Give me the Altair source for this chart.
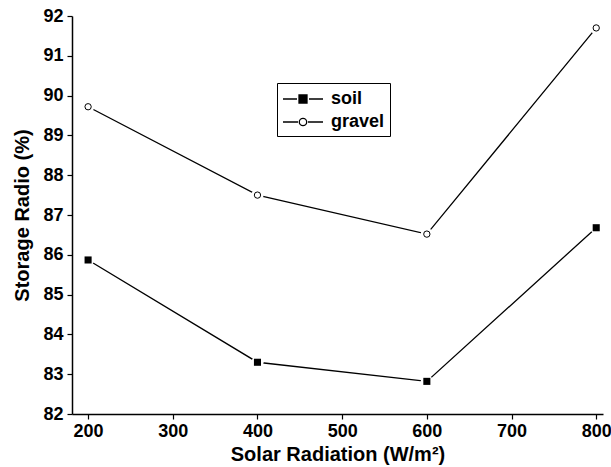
import altair as alt
import pandas as pd

series = ["soil", "gravel"]
radiation = [200, 400, 600, 800]
soil = [85.87, 83.3, 82.82, 86.68]
gravel = [89.72, 87.5, 86.52, 91.7]

y_major = [82, 83, 84, 85, 86, 87, 88, 89, 90, 91, 92]
x_major = [200, 300, 400, 500, 600, 700, 800]
x_domain = [181, 808]
y_domain = [82, 92]

rows = []
for s, vals in zip(series, [soil, gravel]):
    for r, v in zip(radiation, vals):
        rows.append({"series": s, "radiation": r, "ratio": v})
df = pd.DataFrame(rows)

FONT = "Liberation Sans"
W, H = 531, 398
xs = alt.Scale(domain=x_domain, nice=False, zero=False)
ys = alt.Scale(domain=y_domain, nice=False, zero=False)

xax = alt.Axis(orient="bottom", values=x_major, ticks=True, tickSize=5,
               tickColor="black", tickWidth=1.2, grid=False, domainColor="black",
               domainWidth=1.5, labelFont=FONT, labelFontSize=18, labelFontWeight="bold",
               labelColor="black", labelPadding=3, title="Solar Radiation (W/m²)",
               titleFont=FONT, titleFontSize=20, titleFontWeight="bold", titleColor="black",
               titlePadding=4, format="d", labelOverlap=False)
yax = alt.Axis(orient="left", values=y_major, ticks=True, tickSize=5,
               tickColor="black", tickWidth=1.2, grid=False, domainColor="black",
               domainWidth=1.5, labelFont=FONT, labelFontSize=18, labelFontWeight="bold",
               labelColor="black", labelPadding=4, title="Storage Radio (%)",
               titleFont=FONT, titleFontSize=20, titleFontWeight="bold", titleColor="black",
               titlePadding=10, format="d", labelOverlap=False)

base = alt.Chart(df).encode(
    x=alt.X("radiation:Q", scale=xs, axis=xax),
    y=alt.Y("ratio:Q", scale=ys, axis=yax),
)

line = base.mark_line(color="black", strokeWidth=1.3).encode(detail="series:N")
halo = base.mark_point(filled=True, color="white", opacity=1, size=150, shape="circle")
soil_pts = base.transform_filter(alt.datum.series == "soil").mark_point(
    shape="square", filled=True, color="black", size=50, opacity=1)
gravel_pts = base.transform_filter(alt.datum.series == "gravel").mark_point(
    shape="circle", filled=True, fill="white", stroke="black", strokeWidth=1, size=40, opacity=1)

soil_path = "M-1,0H0.4M1.6,0H3M0.6,-0.4H1.4V0.4H0.6Z"
gravel_path = "M-1,0H0.5M1.5,0H3M1.37,0A0.37,0.37,0,1,1,0.63,0A0.37,0.37,0,1,1,1.37,0Z"

leg = alt.Legend(title=None, orient="none", legendX=205, legendY=67,
                 strokeColor="black", padding=5, symbolSize=400,
                 symbolStrokeColor="black", symbolStrokeWidth=1.3, symbolOpacity=1,
                 labelFont=FONT, labelFontSize=18, labelFontWeight="bold", labelColor="black",
                 rowPadding=3, labelOffset=27, fillColor="white")
legend_layer = base.mark_point(opacity=0, stroke="black", strokeWidth=1.3).encode(
    shape=alt.Shape("series:N", scale=alt.Scale(domain=series, range=[soil_path, gravel_path]),
                    legend=leg, sort=series),
    fill=alt.Fill("series:N", scale=alt.Scale(domain=series, range=["black", "white"]),
                  legend=leg, sort=series),
    stroke=alt.Stroke("series:N", scale=alt.Scale(domain=series, range=["black", "black"]),
                      legend=leg, sort=series),
)

chart = alt.layer(line, halo, soil_pts, gravel_pts, legend_layer).properties(
    width=W, height=H,
    autosize=alt.AutoSizeParams(type="none"),
    padding={"left": 72, "top": 16, "right": 8, "bottom": 53},
    background="white",
).configure_view(stroke=None)

chart.save("out.html", embed_options={"renderer": "svg", "actions": False})
